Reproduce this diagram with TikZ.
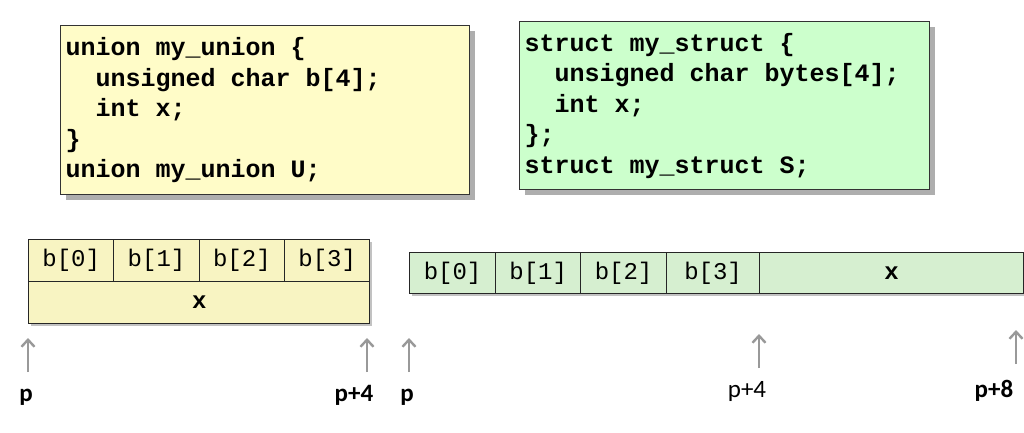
\documentclass[tikz,border=0pt]{standalone}
\usepackage{fontspec}
\setmainfont{Carlito}
\newfontfamily\cmono{Liberation Mono}
\usetikzlibrary{arrows.meta,shadows}
\definecolor{uyel}{HTML}{FFFCC8}
\definecolor{umem}{HTML}{F8F4C2}
\definecolor{sgrn}{HTML}{CCFFCC}
\definecolor{smem}{HTML}{D6EFD0}
\definecolor{shd}{HTML}{9A9A9A}
\definecolor{arr}{HTML}{999999}
\newcommand{\fixsp}{\spaceskip=0pt\relax\xspaceskip=0pt\relax}
\begin{document}
\begin{tikzpicture}[x=1pt,y=-1pt,
  codebox/.style={draw=black!80, line width=1.2pt, anchor=north west, inner sep=5pt,
    align=left, text width=399pt, minimum height=169pt,
    font=\cmono\bfseries\fontsize{25}{30.5}\selectfont,
    drop shadow={shadow xshift=5pt, shadow yshift=-5pt, fill=shd, opacity=0.8}},
  cell/.style={draw=black!85, line width=1.1pt, anchor=north west, inner sep=0pt,
    font=\cmono\fontsize{24}{24}\selectfont},
  ptr/.style={draw=arr, line width=2.6pt, -{Straight Barb[length=7pt,width=13pt,line width=2.4pt]}},
  plab/.style={font=\bfseries\fontsize{25}{25}\selectfont, anchor=base},
  plabr/.style={font=\fontsize{25}{25}\selectfont, anchor=base}
]
\useasboundingbox (0,0) rectangle (1024,433);
\fill[white] (0,0) rectangle (1024,433);

% code boxes
\node[codebox, fill=uyel, text width=399pt] (ucode) at (60,25) {\fixsp union my\_union \{\\
\ \ unsigned char b[4];\\
\ \ int x;\\
\}\\
union my\_union U;};

\node[codebox, fill=sgrn, text width=400pt, minimum height=168pt] (scode) at (519,21) {\fixsp struct my\_struct \{\\
\ \ unsigned char bytes[4];\\
\ \ int x;\\
\};\\
struct my\_struct S;};

% union memory
\fill[shd, opacity=0.6] (31,242) rectangle (372.3,326);
\node[cell, fill=umem, minimum width=85.33pt, minimum height=42pt] (u0) at (28,239) {b[0]};
\node[cell, fill=umem, minimum width=85.33pt, minimum height=42pt] (u1) at (113.33,239) {b[1]};
\node[cell, fill=umem, minimum width=85.33pt, minimum height=42pt] (u2) at (198.67,239) {b[2]};
\node[cell, fill=umem, minimum width=85.33pt, minimum height=42pt] (u3) at (284,239) {b[3]};
\node[cell, fill=umem, minimum width=341.33pt, minimum height=42pt, font=\cmono\bfseries\fontsize{24}{24}\selectfont] (ux) at (28,281) {x};

% struct memory
\fill[shd, opacity=0.6] (412,255.3) rectangle (1026,296.3);
\node[cell, fill=smem, minimum width=86pt, minimum height=41pt] (s0) at (409,252.3) {b[0]};
\node[cell, fill=smem, minimum width=85.3pt, minimum height=41pt] (s1) at (495,252.3) {b[1]};
\node[cell, fill=smem, minimum width=85.4pt, minimum height=41pt] (s2) at (580.3,252.3) {b[2]};
\node[cell, fill=smem, minimum width=93.6pt, minimum height=41pt] (s3) at (665.7,252.3) {b[3]};
\node[cell, fill=smem, minimum width=263.5pt, minimum height=41pt, font=\cmono\bfseries\fontsize{24}{24}\selectfont] (sx) at (759.3,252.3) {x};

% pointers
\coordinate (a1s) at (28,372);   \coordinate (a1e) at (28,338);
\coordinate (a2s) at (367,372);  \coordinate (a2e) at (367,338);
\coordinate (a3s) at (409,372);  \coordinate (a3e) at (409,338);
\coordinate (a4s) at (759,368);  \coordinate (a4e) at (759,334);
\coordinate (a5s) at (1016,364); \coordinate (a5e) at (1016,330);
\draw[ptr] (a1s) -- (a1e);
\draw[ptr] (a2s) -- (a2e);
\draw[ptr] (a3s) -- (a3e);
\draw[ptr] (a4s) -- (a4e);
\draw[ptr] (a5s) -- (a5e);

\node[plab] (lp1) at (26,401) {p};
\node[plab] (lp2) at (354,401) {p+4};
\node[plab] (lp3) at (407,401) {p};
\node[plabr] (lp4) at (747,397) {p+4};
\node[plab] (lp5) at (994,397) {p+8};
\end{tikzpicture}
\end{document}
